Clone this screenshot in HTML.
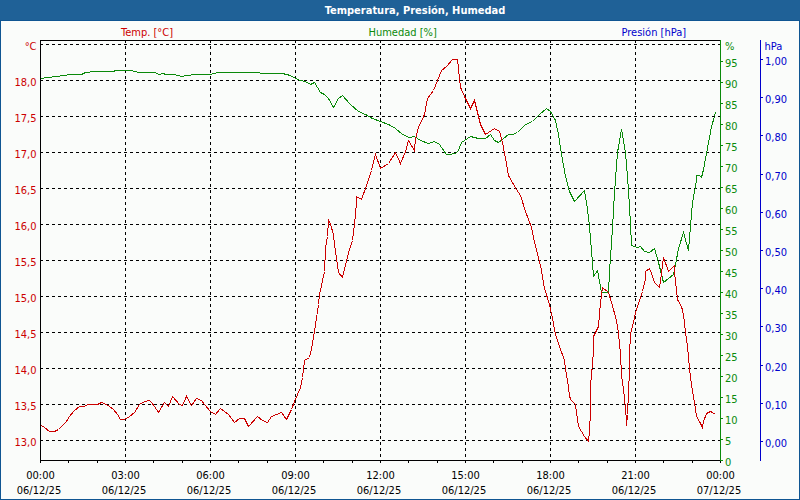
<!DOCTYPE html><html><head><meta charset="utf-8"><title>Temperatura, Presión, Humedad</title><style>
html,body{margin:0;padding:0;background:#FAFCFA;width:800px;height:500px;overflow:hidden}
svg{display:block}text{font-family:"DejaVu Sans Condensed","DejaVu Sans","Liberation Sans",sans-serif;font-stretch:condensed;font-size:11px}
.t{font-weight:bold;fill:#fff}.r{fill:#CC0000}.g{fill:#0A8A0A}.b{fill:#0000CC}.k{fill:#000}
</style></head><body>
<svg width="800" height="500" viewBox="0 0 800 500">
<rect x="0" y="0" width="800" height="500" fill="#FAFCFA"/>
<rect x="0" y="0" width="800" height="21" fill="#1F6197"/>
<g shape-rendering="crispEdges" fill="#0F5592">
<rect x="0" y="20" width="800" height="1"/><rect x="0" y="20" width="1" height="480"/><rect x="799" y="20" width="1" height="480"/><rect x="0" y="499" width="800" height="1"/>
</g>
<text class="t" x="415" y="14" style="font-size:11px" text-anchor="middle">Temperatura, Presión, Humedad</text>
<text class="r" x="121" y="35.5">Temp. [°C]</text>
<text class="g" x="368.5" y="35.5">Humedad [%]</text>
<text class="b" x="621.5" y="35.5">Presión [hPa]</text>
<g shape-rendering="crispEdges" stroke="#000" stroke-width="1" fill="none">
<line x1="40" y1="44.5" x2="720" y2="44.5" stroke-dasharray="3 3"/>
<line x1="40" y1="80.5" x2="720" y2="80.5" stroke-dasharray="3 3"/>
<line x1="40" y1="116.5" x2="720" y2="116.5" stroke-dasharray="3 3"/>
<line x1="40" y1="152.5" x2="720" y2="152.5" stroke-dasharray="3 3"/>
<line x1="40" y1="188.5" x2="720" y2="188.5" stroke-dasharray="3 3"/>
<line x1="40" y1="224.5" x2="720" y2="224.5" stroke-dasharray="3 3"/>
<line x1="40" y1="260.5" x2="720" y2="260.5" stroke-dasharray="3 3"/>
<line x1="40" y1="296.5" x2="720" y2="296.5" stroke-dasharray="3 3"/>
<line x1="40" y1="332.5" x2="720" y2="332.5" stroke-dasharray="3 3"/>
<line x1="40" y1="368.5" x2="720" y2="368.5" stroke-dasharray="3 3"/>
<line x1="40" y1="404.5" x2="720" y2="404.5" stroke-dasharray="3 3"/>
<line x1="40" y1="440.5" x2="720" y2="440.5" stroke-dasharray="3 3"/>
<line x1="125.5" y1="40" x2="125.5" y2="460" stroke-dasharray="3 3"/>
<line x1="210.5" y1="40" x2="210.5" y2="460" stroke-dasharray="3 3"/>
<line x1="295.5" y1="40" x2="295.5" y2="460" stroke-dasharray="3 3"/>
<line x1="380.5" y1="40" x2="380.5" y2="460" stroke-dasharray="3 3"/>
<line x1="465.5" y1="40" x2="465.5" y2="460" stroke-dasharray="3 3"/>
<line x1="550.5" y1="40" x2="550.5" y2="460" stroke-dasharray="3 3"/>
<line x1="635.5" y1="40" x2="635.5" y2="460" stroke-dasharray="3 3"/>
<path d="M40.5,460.5 V40.5 H720.5 M40.5,460.5 H720.5"/>
<path d="M40.5,461 V463 M68.5,461 V463 M97.5,461 V463 M125.5,461 V463 M153.5,461 V463 M182.5,461 V463 M210.5,461 V463 M238.5,461 V463 M267.5,461 V463 M295.5,461 V463 M323.5,461 V463 M352.5,461 V463 M380.5,461 V463 M408.5,461 V463 M437.5,461 V463 M465.5,461 V463 M493.5,461 V463 M522.5,461 V463 M550.5,461 V463 M578.5,461 V463 M607.5,461 V463 M635.5,461 V463 M663.5,461 V463 M692.5,461 V463 M720.5,461 V463"/>
</g>
<g shape-rendering="crispEdges" stroke="#0A8A0A" fill="none"><path d="M720.5,40 V461 M721,460.5 H723 M721,439.5 H723 M721,418.5 H723 M721,397.5 H723 M721,376.5 H723 M721,355.5 H723 M721,334.5 H723 M721,313.5 H723 M721,292.5 H723 M721,271.5 H723 M721,250.5 H723 M721,229.5 H723 M721,208.5 H723 M721,187.5 H723 M721,166.5 H723 M721,145.5 H723 M721,124.5 H723 M721,103.5 H723 M721,82.5 H723 M721,61.5 H723"/></g>
<g shape-rendering="crispEdges" stroke="#0000CC" fill="none"><path d="M760.5,40 V461 M761,441.5 H763 M761,403.5 H763 M761,365.5 H763 M761,326.5 H763 M761,288.5 H763 M761,250.5 H763 M761,212.5 H763 M761,174.5 H763 M761,135.5 H763 M761,97.5 H763 M761,59.5 H763"/></g>
<text class="r" x="36.5" y="50" text-anchor="end">°C</text>
<text class="r" x="36.5" y="86" text-anchor="end">18,0</text>
<text class="r" x="36.5" y="122" text-anchor="end">17,5</text>
<text class="r" x="36.5" y="158" text-anchor="end">17,0</text>
<text class="r" x="36.5" y="194" text-anchor="end">16,5</text>
<text class="r" x="36.5" y="230" text-anchor="end">16,0</text>
<text class="r" x="36.5" y="266" text-anchor="end">15,5</text>
<text class="r" x="36.5" y="302" text-anchor="end">15,0</text>
<text class="r" x="36.5" y="338" text-anchor="end">14,5</text>
<text class="r" x="36.5" y="374" text-anchor="end">14,0</text>
<text class="r" x="36.5" y="410" text-anchor="end">13,5</text>
<text class="r" x="36.5" y="446" text-anchor="end">13,0</text>
<text class="g" x="725" y="50">%</text>
<text class="g" x="725" y="466">0</text>
<text class="g" x="725" y="445">5</text>
<text class="g" x="725" y="424">10</text>
<text class="g" x="725" y="403">15</text>
<text class="g" x="725" y="382">20</text>
<text class="g" x="725" y="361">25</text>
<text class="g" x="725" y="340">30</text>
<text class="g" x="725" y="319">35</text>
<text class="g" x="725" y="298">40</text>
<text class="g" x="725" y="277">45</text>
<text class="g" x="725" y="256">50</text>
<text class="g" x="725" y="235">55</text>
<text class="g" x="725" y="214">60</text>
<text class="g" x="725" y="193">65</text>
<text class="g" x="725" y="172">70</text>
<text class="g" x="725" y="151">75</text>
<text class="g" x="725" y="130">80</text>
<text class="g" x="725" y="109">85</text>
<text class="g" x="725" y="88">90</text>
<text class="g" x="725" y="67">95</text>
<text class="b" x="764.5" y="50">hPa</text>
<text class="b" x="765" y="447">0,00</text>
<text class="b" x="765" y="409">0,10</text>
<text class="b" x="765" y="371">0,20</text>
<text class="b" x="765" y="332">0,30</text>
<text class="b" x="765" y="294">0,40</text>
<text class="b" x="765" y="256">0,50</text>
<text class="b" x="765" y="218">0,60</text>
<text class="b" x="765" y="180">0,70</text>
<text class="b" x="765" y="141">0,80</text>
<text class="b" x="765" y="103">0,90</text>
<text class="b" x="765" y="65">1,00</text>
<text class="k" x="40.5" y="479" text-anchor="middle">00:00</text>
<text class="k" x="39" y="494" text-anchor="middle">06/12/25</text>
<text class="k" x="125.5" y="479" text-anchor="middle">03:00</text>
<text class="k" x="124" y="494" text-anchor="middle">06/12/25</text>
<text class="k" x="210.5" y="479" text-anchor="middle">06:00</text>
<text class="k" x="209" y="494" text-anchor="middle">06/12/25</text>
<text class="k" x="295.5" y="479" text-anchor="middle">09:00</text>
<text class="k" x="294" y="494" text-anchor="middle">06/12/25</text>
<text class="k" x="380.5" y="479" text-anchor="middle">12:00</text>
<text class="k" x="379" y="494" text-anchor="middle">06/12/25</text>
<text class="k" x="465.5" y="479" text-anchor="middle">15:00</text>
<text class="k" x="464" y="494" text-anchor="middle">06/12/25</text>
<text class="k" x="550.5" y="479" text-anchor="middle">18:00</text>
<text class="k" x="549" y="494" text-anchor="middle">06/12/25</text>
<text class="k" x="635.5" y="479" text-anchor="middle">21:00</text>
<text class="k" x="634" y="494" text-anchor="middle">06/12/25</text>
<text class="k" x="720.5" y="479" text-anchor="middle">00:00</text>
<text class="k" x="719" y="494" text-anchor="middle">07/12/25</text>
<g shape-rendering="crispEdges" fill="none" stroke-width="1" stroke-linejoin="miter">
<polyline stroke="#0A8A0A" points="41.5,78.5 47.5,77.5 57.5,76.5 62.5,75.5 71.5,74.5 81.5,74.5 85.5,72.5 95.5,71.5 114.5,71.5 114.5,70.5 120.5,70.5 131.5,70.5 138.5,72.5 154.5,72.5 159.5,74.5 162.5,73.5 166.5,74.5 174.5,74.5 181.5,76.5 186.5,75.5 195.5,74.5 209.5,74.5 218.5,72.5 235.5,72.5 239.5,72.5 254.5,72.5 265.5,73.5 282.5,73.5 290.5,75.5 295.5,78.5 300.5,80.5 305.5,81.5 310.5,84.5 314.5,82.5 320.5,92.5 324.5,94.5 328.5,98.5 333.5,107.5 338.5,98.5 342.5,95.5 350.5,104.5 358.5,111.5 365.5,114.5 372.5,118.5 380.5,121.5 388.5,124.5 395.5,128.5 402.5,134.5 409.5,137.5 414.5,136.5 420.5,140.5 428.5,143.5 434.5,141.5 439.5,144.5 446.5,154.5 450.5,154.5 457.5,152.5 461.5,142.5 470.5,136.5 478.5,138.5 485.5,138.5 490.5,134.5 494.5,140.5 498.5,142.5 503.5,138.5 508.5,134.5 512.5,134.5 517.5,132.5 525.5,124.5 532.5,121.5 539.5,114.5 546.5,108.5 550.5,111.5 555.5,120.5 558.5,134.5 561.5,154.5 565.5,176.5 569.5,191.5 574.5,201.5 584.5,190.5 587.5,209.5 589.5,226.5 591.5,250.5 593.5,276.5 597.5,270.5 601.5,292.5 608.5,292.5 609.5,271.5 612.5,228.5 614.5,192.5 617.5,152.5 621.5,129.5 625.5,152.5 627.5,176.5 629.5,206.5 630.5,224.5 631.5,245.5 637.5,247.5 640.5,246.5 644.5,251.5 649.5,252.5 654.5,248.5 658.5,262.5 663.5,282.5 668.5,278.5 673.5,274.5 675.5,264.5 678.5,248.5 683.5,232.5 688.5,250.5 690.5,226.5 692.5,202.5 696.5,180.5 696.5,175.5 699.5,175.5 701.5,177.5 703.5,169.5 706.5,153.5 709.5,137.5 711.5,126.5 714.5,116.5 715.5,112.5"/>
<polyline stroke="#CC0000" points="41.5,425.5 44.5,427.5 49.5,431.5 54.5,431.5 58.5,429.5 66.5,421.5 69.5,416.5 74.5,410.5 79.5,406.5 84.5,406.5 87.5,404.5 90.5,404.5 97.5,404.5 101.5,402.5 104.5,403.5 109.5,406.5 113.5,409.5 117.5,414.5 120.5,419.5 124.5,419.5 129.5,416.5 134.5,412.5 139.5,404.5 144.5,401.5 149.5,400.5 151.5,402.5 154.5,406.5 158.5,412.5 164.5,402.5 168.5,406.5 172.5,396.5 179.5,404.5 182.5,405.5 186.5,396.5 191.5,405.5 196.5,398.5 201.5,400.5 204.5,404.5 210.5,411.5 215.5,414.5 220.5,408.5 224.5,411.5 228.5,414.5 234.5,422.5 239.5,418.5 244.5,418.5 248.5,426.5 257.5,416.5 262.5,420.5 267.5,422.5 271.5,416.5 276.5,414.5 281.5,412.5 286.5,419.5 291.5,409.5 294.5,401.5 300.5,387.5 302.5,377.5 304.5,360.5 309.5,357.5 311.5,349.5 314.5,331.5 318.5,304.5 319.5,294.5 321.5,285.5 324.5,271.5 325.5,248.5 327.5,236.5 328.5,219.5 330.5,224.5 333.5,234.5 334.5,244.5 338.5,272.5 342.5,277.5 345.5,265.5 348.5,252.5 352.5,240.5 354.5,224.5 356.5,202.5 356.5,196.5 361.5,199.5 365.5,188.5 371.5,170.5 375.5,154.5 380.5,168.5 388.5,163.5 395.5,152.5 400.5,163.5 405.5,151.5 408.5,140.5 414.5,150.5 415.5,138.5 418.5,127.5 424.5,114.5 427.5,98.5 433.5,90.5 437.5,80.5 441.5,70.5 446.5,66.5 452.5,59.5 457.5,59.5 460.5,87.5 465.5,98.5 470.5,108.5 474.5,100.5 477.5,112.5 480.5,124.5 485.5,134.5 494.5,128.5 499.5,131.5 502.5,142.5 505.5,158.5 508.5,175.5 512.5,182.5 516.5,189.5 520.5,195.5 525.5,211.5 531.5,227.5 534.5,242.5 538.5,257.5 541.5,270.5 544.5,288.5 549.5,304.5 552.5,318.5 555.5,334.5 559.5,346.5 564.5,360.5 565.5,368.5 567.5,380.5 569.5,395.5 570.5,399.5 575.5,404.5 576.5,412.5 578.5,426.5 584.5,436.5 588.5,441.5 589.5,431.5 590.5,410.5 590.5,389.5 591.5,370.5 592.5,368.5 593.5,346.5 593.5,336.5 595.5,332.5 598.5,326.5 600.5,302.5 602.5,287.5 608.5,292.5 611.5,302.5 616.5,320.5 618.5,333.5 620.5,354.5 621.5,375.5 623.5,389.5 625.5,408.5 626.5,420.5 626.5,425.5 627.5,414.5 628.5,391.5 629.5,370.5 629.5,354.5 630.5,333.5 633.5,322.5 635.5,312.5 637.5,306.5 640.5,297.5 642.5,291.5 645.5,278.5 645.5,271.5 649.5,268.5 651.5,273.5 654.5,282.5 659.5,287.5 661.5,273.5 663.5,257.5 668.5,271.5 674.5,265.5 674.5,272.5 677.5,299.5 678.5,301.5 681.5,306.5 682.5,310.5 683.5,314.5 684.5,322.5 685.5,332.5 687.5,346.5 688.5,357.5 689.5,368.5 691.5,384.5 694.5,402.5 696.5,416.5 699.5,421.5 702.5,427.5 703.5,421.5 706.5,413.5 710.5,411.5 712.5,412.5 715.5,414.5"/>
</g>
</svg></body></html>
